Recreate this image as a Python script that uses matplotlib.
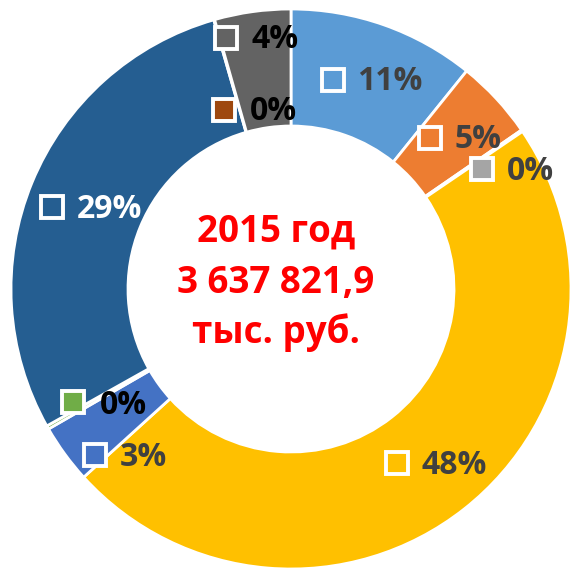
import matplotlib
matplotlib.use('Agg')
import matplotlib.pyplot as plt

# shares of the 2015 total, clockwise from 12 o'clock
shares = [10.8, 4.6, 0.1, 47.8, 3.4, 0.2, 28.7, 0.05, 4.4]
pct_labels = ['11%', '5%', '0%', '48%', '3%', '0%', '29%', '0%', '4%']
colors = ['#5B9BD5', '#ED7D31', '#A5A5A5', '#FFC000', '#4472C4',
          '#70AD47', '#255E91', '#9E480E', '#636363']
title_lines = ['2015 год', '3 637 821,9', 'тыс. руб.']

W, H = 572, 570
# label anchor positions in pixels: marker centre and text left edge / centre y
marker_xy = [(333, 80), (430, 138), (482, 169), (397, 463), (95, 455),
             (73, 402), (52, 207), (224, 110), (226, 38)]
text_xy = [(357, 81), (455, 140), (507, 172), (422, 466), (120, 458),
           (100, 405), (77, 209), (250, 112), (251, 40)]
text_colors = ['#404040', '#404040', '#404040', '#404040', '#404040',
               '#000000', '#FFFFFF', '#000000', '#000000']

font = 'Open Sans'

fig = plt.figure(figsize=(W / 100, H / 100), dpi=100)
ax = fig.add_axes([0, 0, 1, 1])

ax.pie(shares, colors=colors, startangle=90, counterclock=False,
       center=(291, H - 289), radius=280,
       wedgeprops=dict(width=117, edgecolor='white', linewidth=2))
ax.set_xlim(0, W)
ax.set_ylim(0, H)
ax.set_aspect('equal')
ax.axis('off')

for (mx, my), (tx, ty), lab, col, tc in zip(marker_xy, text_xy, pct_labels,
                                            colors, text_colors):
    ax.plot(mx, H - my, marker='s', ms=15.5, mfc=col, mec='white', mew=2.8,
            zorder=5)
    ax.text(tx, H - ty, lab, ha='left', va='center', fontsize=23,
            fontweight='bold', color=tc, family=font, zorder=6)

for line, y in zip(title_lines, [232, 283, 333]):
    ax.text(276, H - y, line, ha='center', va='center', fontsize=26.5,
            fontweight='bold', color='#FF0000', family=font)

fig.savefig('out.png', dpi=100)
